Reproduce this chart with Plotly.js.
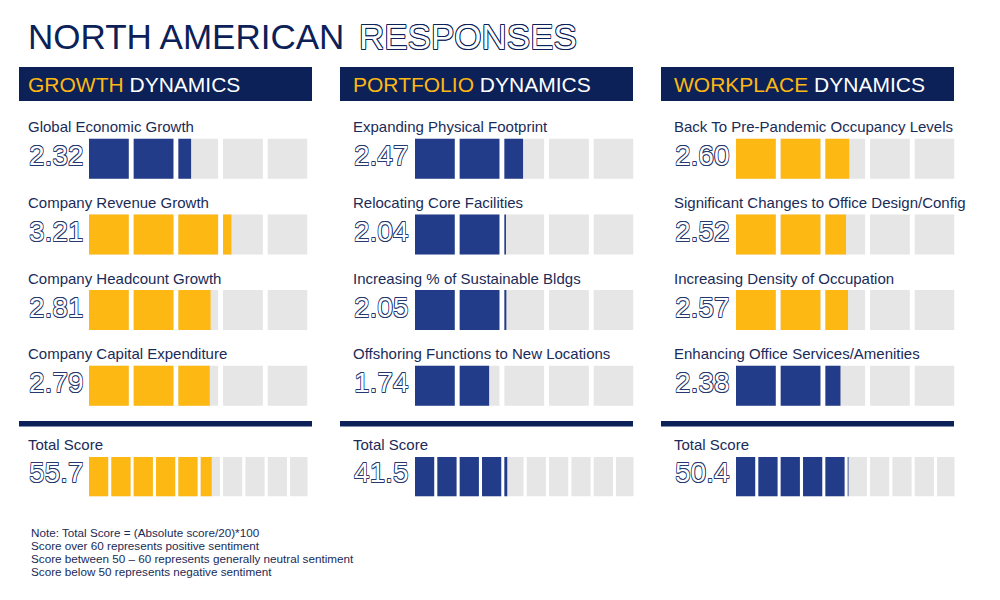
<!DOCTYPE html>
<html><head><meta charset="utf-8">
<script src="https://cdn.plot.ly/plotly-3.0.1.min.js"></script>
<style>html,body{margin:0;padding:0;background:#fff}#chart{width:1000px;height:600px}</style>
</head><body><div id="chart"></div>
<script>
// ---------- DATA ----------
const titleMain = 'NORTH AMERICAN';
const titleOutline = 'RESPONSES';
const sectionNames = ['GROWTH', 'PORTFOLIO', 'WORKPLACE'];
const sectionSuffix = 'DYNAMICS';
const growthLabels = ['Global Economic Growth', 'Company Revenue Growth', 'Company Headcount Growth', 'Company Capital Expenditure'];
const growthScores = [2.32, 3.21, 2.81, 2.79];
const portfolioLabels = ['Expanding Physical Footprint', 'Relocating Core Facilities', 'Increasing % of Sustainable Bldgs', 'Offshoring Functions to New Locations'];
const portfolioScores = [2.47, 2.04, 2.05, 1.74];
const workplaceLabels = ['Back To Pre-Pandemic Occupancy Levels', 'Significant Changes to Office Design/Config', 'Increasing Density of Occupation', 'Enhancing Office Services/Amenities'];
const workplaceScores = [2.60, 2.52, 2.57, 2.38];
const totalLabel = 'Total Score';
const totalScores = [55.7, 41.5, 50.4];
const noteLines = [
  'Note: Total Score = (Absolute score/20)*100',
  'Score over 60 represents positive sentiment',
  'Score between 50 \u2013 60 represents generally neutral sentiment',
  'Score below 50 represents negative sentiment'
];

// ---------- STYLE ----------
const NAVY_FILL = '#233c8a', GOLD = '#fdb813', GREY = '#e6e6e6';
const HEADER = '#0b2158', TEXT = '#1a2b57', OUTLINE = '#26386e';
const FONT = '"Liberation Sans", Arial, Helvetica, sans-serif';
const outlineShadow = (c, d) => [
  `${d}px 0 0 ${c}`, `-${d}px 0 0 ${c}`, `0 ${d}px 0 ${c}`, `0 -${d}px 0 ${c}`,
  `${d}px ${d}px 0 ${c}`, `-${d}px -${d}px 0 ${c}`, `${d}px -${d}px 0 ${c}`, `-${d}px ${d}px 0 ${c}`
].join(', ');

const SEG_W = 0.89;     // width of a score segment (1 unit = 1 score point)
const TOT_STEP = 0.5;   // each total segment = 10 points
const TOT_W = 0.43;
const rowColor = v => v >= 2.5 ? GOLD : NAVY_FILL;
const totColor = v => v >= 55 ? GOLD : NAVY_FILL;
const clamp01 = v => Math.max(0, Math.min(1, v));

const columns = [
  {labels: growthLabels, scores: growthScores},
  {labels: portfolioLabels, scores: portfolioScores},
  {labels: workplaceLabels, scores: workplaceScores}
];

const traces = [];
columns.forEach((col, c) => {
  const xa = c === 0 ? 'x' : 'x' + (c + 1);
  const by = [], bb = [], bx = [];
  const fy = [], fb = [], fx = [], fc = [];
  col.scores.forEach((v, r) => {
    for (let i = 0; i < 5; i++) {
      by.push(r); bb.push(i); bx.push(SEG_W);
      fy.push(r); fb.push(i); fx.push(clamp01(v - i) * SEG_W); fc.push(rowColor(v));
    }
  });
  traces.push({type: 'bar', orientation: 'h', xaxis: xa, yaxis: 'y', y: by, base: bb, x: bx, width: 0.53,
    marker: {color: GREY, line: {width: 0}}, hoverinfo: 'skip', showlegend: false});
  traces.push({type: 'bar', orientation: 'h', xaxis: xa, yaxis: 'y', y: fy, base: fb, x: fx, width: 0.53,
    marker: {color: fc, line: {width: 0}}, hoverinfo: 'skip', showlegend: false});
  const t = totalScores[c];
  const ty = [], tb = [], tx = [], tfx = [];
  for (let k = 0; k < 10; k++) {
    ty.push(0); tb.push(k * TOT_STEP); tx.push(TOT_W); tfx.push(clamp01(t / 10 - k) * TOT_W);
  }
  traces.push({type: 'bar', orientation: 'h', xaxis: xa, yaxis: 'y2', y: ty, base: tb, x: tx, width: 1,
    marker: {color: GREY, line: {width: 0}}, hoverinfo: 'skip', showlegend: false});
  traces.push({type: 'bar', orientation: 'h', xaxis: xa, yaxis: 'y2', y: ty, base: tb, x: tfx, width: 1,
    marker: {color: totColor(t), line: {width: 0}}, hoverinfo: 'skip', showlegend: false});
});

// ---------- LAYOUT ----------
const W = 1000, H = 600;
const px = x => x / W, py = y => 1 - y / H;
const hidden = {visible: false, fixedrange: true};
const colLeft = [27, 352, 673];
const headerX = [[19, 312], [340, 633], [661, 954]];
const barDom = [[89, 307.5], [415, 633.5], [736, 954.5]];

const layout = {
  width: W, height: H, margin: {l: 0, r: 0, t: 0, b: 0},
  paper_bgcolor: '#fff', plot_bgcolor: 'rgba(0,0,0,0)',
  barmode: 'overlay', showlegend: false,
  xaxis: Object.assign({domain: [px(barDom[0][0]), px(barDom[0][1])], range: [0, 4.89], anchor: 'y'}, hidden),
  xaxis2: Object.assign({domain: [px(barDom[1][0]), px(barDom[1][1])], range: [0, 4.89], anchor: 'y'}, hidden),
  xaxis3: Object.assign({domain: [px(barDom[2][0]), px(barDom[2][1])], range: [0, 4.89], anchor: 'y'}, hidden),
  yaxis: Object.assign({domain: [py(423.5), py(121)], range: [3.5, -0.5], anchor: 'x'}, hidden),
  yaxis2: Object.assign({domain: [py(496.5), py(457)], range: [0.5, -0.5], anchor: 'x'}, hidden),
  shapes: [], annotations: []
};

// Title
layout.annotations.push({xref: 'paper', yref: 'paper', x: px(26), y: py(36), xanchor: 'left', yanchor: 'middle',
  text: titleMain, showarrow: false, font: {family: FONT, size: 35, color: HEADER}});
layout.annotations.push({xref: 'paper', yref: 'paper', x: px(357), y: py(36), xanchor: 'left', yanchor: 'middle',
  text: titleOutline, showarrow: false, font: {family: FONT, size: 35, color: '#ffffff', shadow: outlineShadow(HEADER, 0.7)}});

columns.forEach((col, c) => {
  // header bar
  layout.shapes.push({type: 'rect', xref: 'paper', yref: 'paper', x0: px(headerX[c][0]), x1: px(headerX[c][1]),
    y0: py(101), y1: py(67), fillcolor: HEADER, line: {width: 0}, layer: 'below'});
  layout.annotations.push({xref: 'paper', yref: 'paper', x: px(colLeft[c] - 1), y: py(84), xanchor: 'left', yanchor: 'middle',
    text: `<span style="color:${GOLD}">${sectionNames[c]}</span> ${sectionSuffix}`, showarrow: false,
    font: {family: FONT, size: 21, color: '#ffffff'}});
  // separator line
  layout.shapes.push({type: 'rect', xref: 'paper', yref: 'paper', x0: px(headerX[c][0]), x1: px(headerX[c][1]),
    y0: py(426.5), y1: py(421), fillcolor: HEADER, line: {width: 0}});
  // rows
  col.labels.forEach((lab, r) => {
    layout.annotations.push({xref: 'paper', yref: 'y', x: px(colLeft[c] - 1), y: r, yshift: 32, xanchor: 'left', yanchor: 'middle',
      text: lab, showarrow: false, font: {family: FONT, size: 15, color: TEXT}});
    layout.annotations.push({xref: 'paper', yref: 'y', x: px(colLeft[c]), y: r, yshift: 3, xanchor: 'left', yanchor: 'middle',
      text: col.scores[r].toFixed(2), showarrow: false,
      font: {family: FONT, size: 28, color: '#ffffff', shadow: outlineShadow(OUTLINE, 0.6)}});
  });
  // total
  layout.annotations.push({xref: 'paper', yref: 'y2', x: px(colLeft[c] - 1), y: 0, yshift: 32, xanchor: 'left', yanchor: 'middle',
    text: totalLabel, showarrow: false, font: {family: FONT, size: 15, color: TEXT}});
  layout.annotations.push({xref: 'paper', yref: 'y2', x: px(colLeft[c]), y: 0, yshift: 4, xanchor: 'left', yanchor: 'middle',
    text: totalScores[c].toFixed(1), showarrow: false,
    font: {family: FONT, size: 28, color: '#ffffff', shadow: outlineShadow(OUTLINE, 0.6)}});
});

// Notes
noteLines.forEach((line, i) => {
  layout.annotations.push({xref: 'paper', yref: 'paper', x: px(29), y: py(532 + i * 13.3), xanchor: 'left', yanchor: 'middle',
    text: line, showarrow: false, font: {family: FONT, size: 11.7, color: TEXT}});
});

Plotly.newPlot('chart', traces, layout, {staticPlot: true, displayModeBar: false});
</script>
</body></html>
